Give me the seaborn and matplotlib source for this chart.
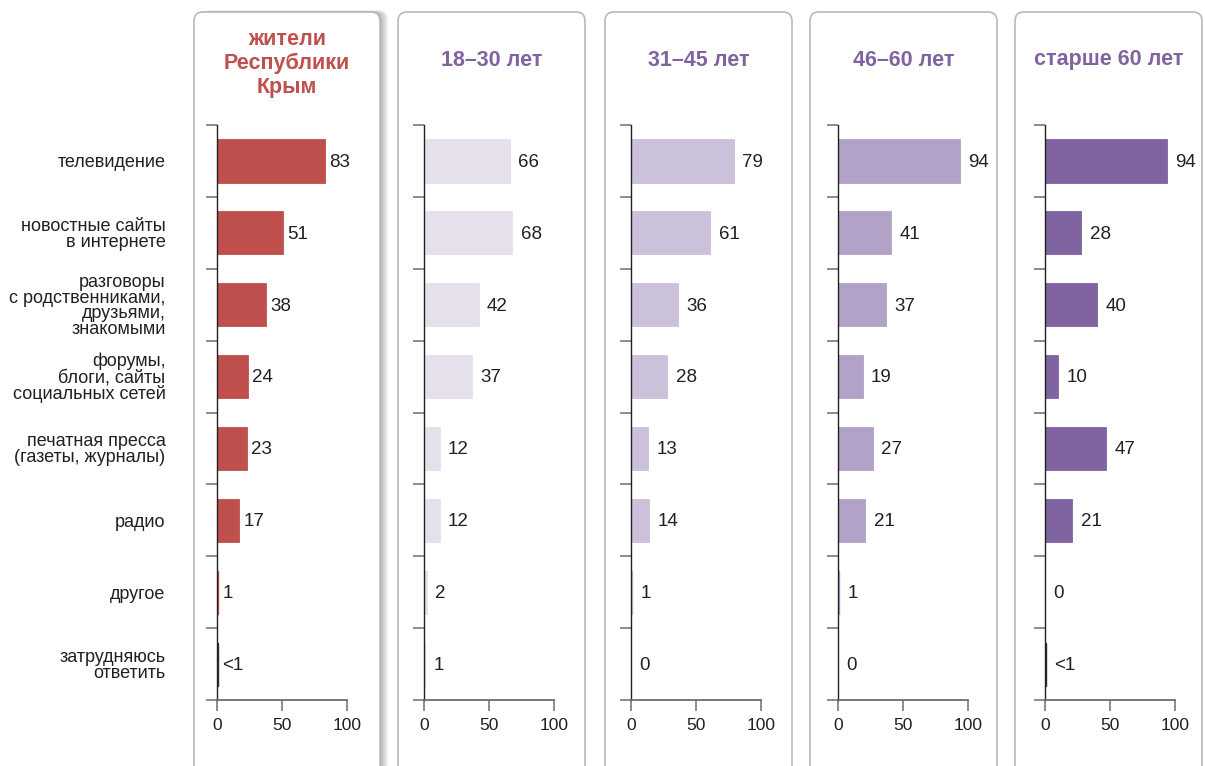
import matplotlib
matplotlib.use("Agg")
import matplotlib.pyplot as plt
from matplotlib.patches import FancyBboxPatch
import numpy as np
import pandas as pd
import seaborn as sns

# --- data -------------------------------------------------------------
categories = [
    "телевидение",
    "новостные сайты\nв интернете",
    "разговоры\nс родственниками,\nдрузьями,\nзнакомыми",
    "форумы,\nблоги, сайты\nсоциальных сетей",
    "печатная пресса\n(газеты, журналы)",
    "радио",
    "другое",
    "затрудняюсь\nответить",
]

group_titles = ["жители\nРеспублики\nКрым", "18–30 лет", "31–45 лет", "46–60 лет", "старше 60 лет"]

# values in %, 0.5 stands for "less than one percent"
residents = [83, 51, 38, 24, 23, 17, 1, 0.5]
age_18_30 = [66, 68, 42, 37, 12, 12, 2, 1]
age_31_45 = [79, 61, 36, 28, 13, 14, 1, 0]
age_46_60 = [94, 41, 37, 19, 27, 21, 1, 0]
age_60_plus = [94, 28, 40, 10, 47, 21, 0, 0.5]

x_ticks = [0, 50, 100]

series = [residents, age_18_30, age_31_45, age_46_60, age_60_plus]
bar_colors = ["#C0504D", "#E5E0EC", "#CCC1DA", "#B2A2C7", "#8064A2"]
title_colors = ["#C0504D", "#8064A2", "#8064A2", "#8064A2", "#8064A2"]

# --- style ------------------------------------------------------------
sns.set_style("white")
plt.rcParams["font.family"] = ["Liberation Sans Narrow", "Liberation Sans", "DejaVu Sans"]
NUM_FONT = ["Liberation Sans", "DejaVu Sans"]

W, H = 1205, 766
fig = plt.figure(figsize=(W / 100, H / 100), dpi=100)

TXT = "#231F20"
AXIS_GREY = "#6D6E71"


def px_rect(x0, y0, x1, y1):
    """figure-fraction rect from a pixel box (top-left origin)."""
    return [x0 / W, 1 - y1 / H, (x1 - x0) / W, (y1 - y0) / H]


# panel frames (pixel coordinates, top-left origin)
frames = [(194, 380), (398, 585), (605, 792), (810, 997), (1015, 1202)]
frame_top = 12
frame_bottom = 790


def frame_patch(x0, x1, dx=0, dy=0, **kw):
    return FancyBboxPatch(((x0 + dx) / 100, (H - frame_bottom - dy) / 100),
                          (x1 - x0) / 100, (frame_bottom - frame_top) / 100,
                          boxstyle="round,pad=0,rounding_size=0.09",
                          transform=fig.dpi_scale_trans, **kw)


# soft shadow behind the first frame
for i in range(1, 10):
    fig.patches.append(frame_patch(*frames[0], dx=i * 0.9, dy=-i * 0.2, facecolor="black",
                                   edgecolor="none", alpha=0.035, zorder=0))
for x0, x1 in frames:
    fig.patches.append(frame_patch(x0, x1, facecolor="white", edgecolor="#B9B9B9",
                                   linewidth=1.2, zorder=1))

# --- panels ------------------------------------------------------------
zero_x = [217, 424, 631, 838, 1045]
ax_top, ax_bottom = 125, 700

for k, (vals, title) in enumerate(zip(series, group_titles)):
    ax = fig.add_axes(px_rect(zero_x[k], ax_top, zero_x[k] + 130, ax_bottom))
    ax.set_zorder(3)
    ax.patch.set_alpha(0)
    df = pd.DataFrame({"cat": categories, "val": vals})
    edge = "#3A2A2A" if k in (0, 4) else bar_colors[k]
    sns.barplot(data=df, y="cat", x="val", order=categories, orient="h",
                color=bar_colors[k], saturation=1, width=0.6, ax=ax,
                edgecolor=bar_colors[k], linewidth=0.6)
    # very small shares still show as a thin stroke
    for bar, v in zip(ax.patches, vals):
        if 0 < v < 1.5:
            bar.set_edgecolor(edge if v < 1 else bar_colors[k])
            bar.set_linewidth(1.0)
    ax.set_xlim(0, 100)
    ax.set_ylim(len(categories) - 0.5, -0.5)
    ax.set_xlabel("")
    ax.set_ylabel("")

    for sp in ["top", "right"]:
        ax.spines[sp].set_visible(False)
    ax.spines["left"].set_color(TXT)
    ax.spines["left"].set_linewidth(1.0)
    ax.spines["bottom"].set_color(AXIS_GREY)
    ax.spines["bottom"].set_linewidth(1.3)

    ax.set_xticks(x_ticks)
    ax.set_xticklabels([str(t) for t in x_ticks], family=NUM_FONT)
    ax.tick_params(axis="x", bottom=True, direction="out", length=8, width=1.1,
                   color=AXIS_GREY, labelsize=12.5, labelcolor=TXT, pad=5)

    # category boundaries as minor ticks on the value axis
    ax.set_yticks(np.arange(-0.5, len(categories), 1.0), minor=True)
    ax.tick_params(axis="y", which="minor", left=True, direction="out", length=8,
                   width=1.1, color=AXIS_GREY)
    if k == 0:
        ax.tick_params(axis="y", which="major", left=False, length=0, pad=37,
                       labelsize=13, labelcolor=TXT)
        for lbl in ax.get_yticklabels():
            lbl.set_linespacing(0.9)
            lbl.set_horizontalalignment("right")
    else:
        ax.tick_params(axis="y", which="major", left=False, labelleft=False)

    offset = 3 if k == 0 else 6
    for i, v in enumerate(vals):
        label = "<1" if 0 < v < 1 else f"{v:g}"
        ax.annotate(label, xy=(v, i), xytext=(offset, -1), textcoords="offset points",
                    ha="left", va="center", fontsize=13.5, color=TXT,
                    family=NUM_FONT, annotation_clip=False)

    # panel heading
    cx = (frames[k][0] + frames[k][1]) / 2
    ty = 63.5 if k == 0 else 60
    fig.text(cx / W, 1 - ty / H, title, ha="center", va="center", fontsize=15.5,
             fontweight="bold", color=title_colors[k], linespacing=1.17, zorder=4)

fig.savefig("out.png", dpi=100)
